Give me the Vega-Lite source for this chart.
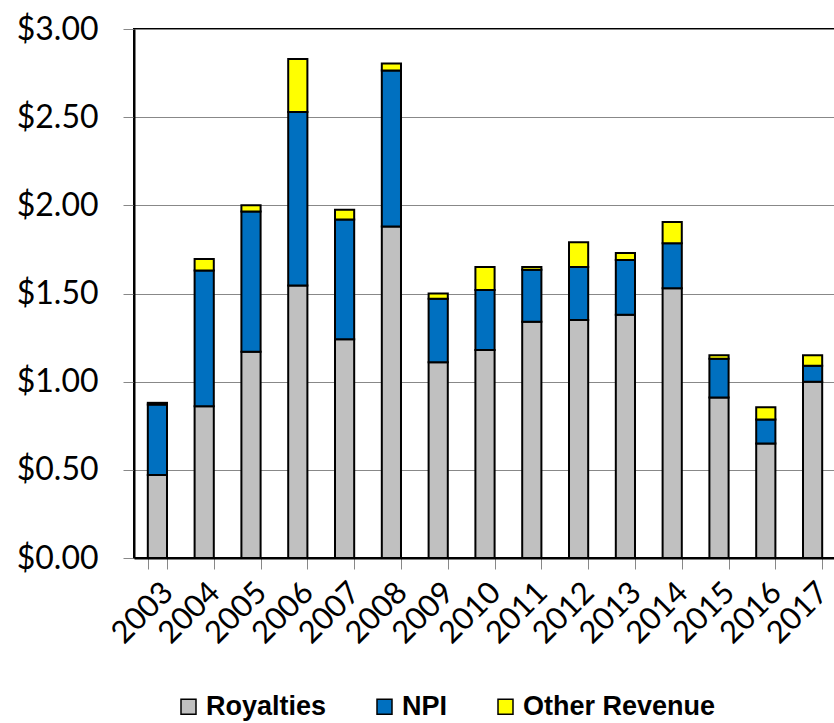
{
  "$schema": "https://vega.github.io/schema/vega-lite/v6.json",
  "autosize": {"type": "none"},
  "width": 702,
  "height": 529,
  "padding": {"left": 134, "top": 29, "right": 0, "bottom": 165},
  "background": "white",
  "config": {
    "view": {"stroke": "black", "strokeWidth": 2},
    "font": "Lato"
  },
  "data": {
    "values": [
      {"year": "2003", "type": "Royalties", "ord": 1, "value": 0.47},
      {"year": "2003", "type": "NPI", "ord": 2, "value": 0.40},
      {"year": "2003", "type": "Other Revenue", "ord": 3, "value": 0.01},
      {"year": "2004", "type": "Royalties", "ord": 1, "value": 0.86},
      {"year": "2004", "type": "NPI", "ord": 2, "value": 0.77},
      {"year": "2004", "type": "Other Revenue", "ord": 3, "value": 0.065},
      {"year": "2005", "type": "Royalties", "ord": 1, "value": 1.17},
      {"year": "2005", "type": "NPI", "ord": 2, "value": 0.795},
      {"year": "2005", "type": "Other Revenue", "ord": 3, "value": 0.035},
      {"year": "2006", "type": "Royalties", "ord": 1, "value": 1.545},
      {"year": "2006", "type": "NPI", "ord": 2, "value": 0.985},
      {"year": "2006", "type": "Other Revenue", "ord": 3, "value": 0.30},
      {"year": "2007", "type": "Royalties", "ord": 1, "value": 1.24},
      {"year": "2007", "type": "NPI", "ord": 2, "value": 0.68},
      {"year": "2007", "type": "Other Revenue", "ord": 3, "value": 0.055},
      {"year": "2008", "type": "Royalties", "ord": 1, "value": 1.88},
      {"year": "2008", "type": "NPI", "ord": 2, "value": 0.885},
      {"year": "2008", "type": "Other Revenue", "ord": 3, "value": 0.04},
      {"year": "2009", "type": "Royalties", "ord": 1, "value": 1.11},
      {"year": "2009", "type": "NPI", "ord": 2, "value": 0.36},
      {"year": "2009", "type": "Other Revenue", "ord": 3, "value": 0.03},
      {"year": "2010", "type": "Royalties", "ord": 1, "value": 1.18},
      {"year": "2010", "type": "NPI", "ord": 2, "value": 0.34},
      {"year": "2010", "type": "Other Revenue", "ord": 3, "value": 0.13},
      {"year": "2011", "type": "Royalties", "ord": 1, "value": 1.34},
      {"year": "2011", "type": "NPI", "ord": 2, "value": 0.295},
      {"year": "2011", "type": "Other Revenue", "ord": 3, "value": 0.015},
      {"year": "2012", "type": "Royalties", "ord": 1, "value": 1.35},
      {"year": "2012", "type": "NPI", "ord": 2, "value": 0.30},
      {"year": "2012", "type": "Other Revenue", "ord": 3, "value": 0.14},
      {"year": "2013", "type": "Royalties", "ord": 1, "value": 1.38},
      {"year": "2013", "type": "NPI", "ord": 2, "value": 0.31},
      {"year": "2013", "type": "Other Revenue", "ord": 3, "value": 0.04},
      {"year": "2014", "type": "Royalties", "ord": 1, "value": 1.53},
      {"year": "2014", "type": "NPI", "ord": 2, "value": 0.255},
      {"year": "2014", "type": "Other Revenue", "ord": 3, "value": 0.12},
      {"year": "2015", "type": "Royalties", "ord": 1, "value": 0.91},
      {"year": "2015", "type": "NPI", "ord": 2, "value": 0.22},
      {"year": "2015", "type": "Other Revenue", "ord": 3, "value": 0.02},
      {"year": "2016", "type": "Royalties", "ord": 1, "value": 0.65},
      {"year": "2016", "type": "NPI", "ord": 2, "value": 0.135},
      {"year": "2016", "type": "Other Revenue", "ord": 3, "value": 0.07},
      {"year": "2017", "type": "Royalties", "ord": 1, "value": 1.00},
      {"year": "2017", "type": "NPI", "ord": 2, "value": 0.09},
      {"year": "2017", "type": "Other Revenue", "ord": 3, "value": 0.06}
    ]
  },
  "mark": {"type": "bar", "stroke": "black", "strokeWidth": 2},
  "encoding": {
    "x": {
      "field": "year",
      "type": "nominal",
      "scale": {"paddingInner": 0.59, "paddingOuter": 0.295},
      "axis": {
        "title": null,
        "labelAngle": -45,
        "labelFont": "Lato",
        "labelFontSize": 31,
        "labelColor": "black",
        "labelPadding": 8,
        "tickBand": "extent",
        "tickSize": 11,
        "tickColor": "#888888",
        "domainColor": "black",
        "domainWidth": 2
      }
    },
    "y": {
      "field": "value",
      "type": "quantitative",
      "stack": "zero",
      "scale": {"domain": [0, 3], "nice": false},
      "axis": {
        "title": null,
        "values": [0, 0.5, 1, 1.5, 2, 2.5, 3],
        "format": "$.2f",
        "labelFont": "Lato",
        "labelFontSize": 32,
        "labelColor": "black",
        "labelPadding": 25,
        "tickSize": 11,
        "tickColor": "#888888",
        "gridColor": "#888888",
        "gridWidth": 1.2,
        "domainColor": "black",
        "domainWidth": 2
      }
    },
    "color": {
      "field": "type",
      "type": "nominal",
      "scale": {
        "domain": ["Royalties", "NPI", "Other Revenue"],
        "range": ["#C0C0C0", "#0070C0", "#FFFF00"]
      },
      "legend": {
        "title": null,
        "orient": "none",
        "direction": "horizontal",
        "legendX": 41,
        "legendY": 664,
        "symbolType": "square",
        "symbolSize": 225,
        "symbolStrokeColor": "black",
        "symbolStrokeWidth": 1.5,
        "labelFont": "Liberation Sans",
        "labelFontWeight": "bold",
        "labelFontSize": 27,
        "labelColor": "black",
        "labelOffset": 4,
        "labelLimit": 0,
        "columnPadding": 44
      }
    },
    "order": {"field": "ord", "type": "quantitative"}
  }
}
